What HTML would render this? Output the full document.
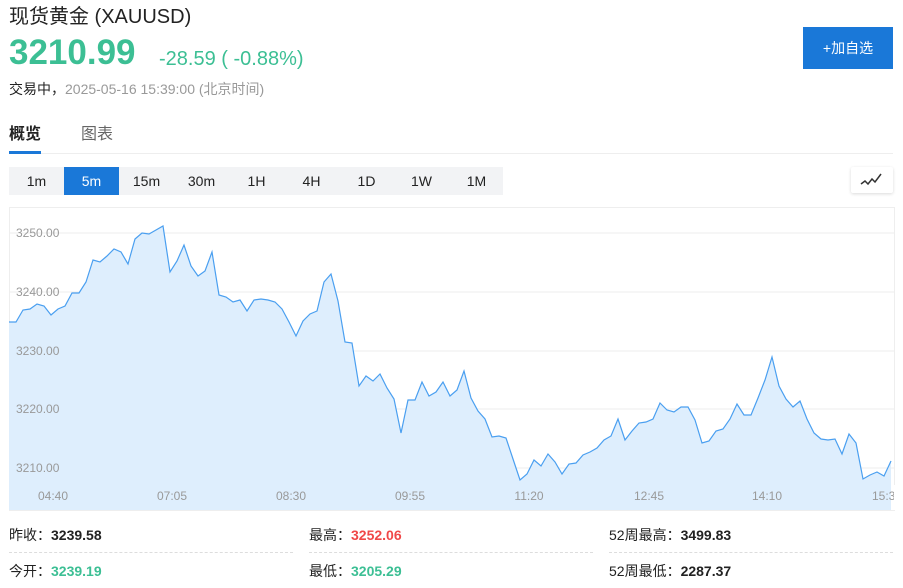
<!DOCTYPE html>
<html><head><meta charset="utf-8"><style>
*{margin:0;padding:0;box-sizing:border-box}
body{width:903px;height:588px;overflow:hidden;background:#fff;font-family:"Liberation Sans","Noto Sans CJK SC",sans-serif;position:relative}
.a{position:absolute;white-space:nowrap}
.tb{position:absolute;top:167px;height:28px;width:55px;text-align:center;line-height:28px;font-size:14px;color:#222}
.st{font-size:14px;color:#222}
.st b{font-weight:bold}
.dl{position:absolute;top:552px;height:0;border-top:1px dashed #ddd}
</style></head><body>
<div class="a" style="left:9px;top:0px;font-size:20px;color:#222">现货黄金&nbsp;(XAUUSD)</div>
<div class="a" style="left:9px;top:33px;font-size:35px;font-weight:bold;color:#3cbf94">3210.99</div>
<div class="a" style="left:159px;top:48px;font-size:20px;color:#3cbf94">-28.59 ( -0.88%)</div>
<div class="a" style="left:9px;top:79px;font-size:14px;color:#222">交易中，<span style="color:#999">2025-05-16 15:39:00 (北京时间)</span></div>
<div class="a" style="left:803px;top:27px;width:90px;height:42px;background:#1a78d8;color:#fff;font-size:14px;text-align:center;line-height:42px">+加自选</div>
<div class="a" style="left:9px;top:120px;font-size:16px;font-weight:bold;color:#222">概览</div>
<div class="a" style="left:81px;top:120px;font-size:16px;color:#666">图表</div>
<div class="a" style="left:9px;top:153px;width:884px;height:1px;background:#eee"></div>
<div class="a" style="left:9px;top:151px;width:32px;height:3px;background:#1a78d8"></div>
<div class="a" style="left:9px;top:167px;width:494px;height:28px;background:#f2f3f5"></div>
<div class="tb" style="left:9px">1m</div>
<div class="tb" style="left:64px;background:#1a78d8;color:#fff">5m</div>
<div class="tb" style="left:119px">15m</div>
<div class="tb" style="left:174px">30m</div>
<div class="tb" style="left:229px">1H</div>
<div class="tb" style="left:284px">4H</div>
<div class="tb" style="left:339px">1D</div>
<div class="tb" style="left:394px">1W</div>
<div class="tb" style="left:449px">1M</div>
<div class="a" style="left:851px;top:167px;width:42px;height:26px;background:#fff;box-shadow:0 1px 3px rgba(0,0,0,.15);border-radius:2px">
<svg width="42" height="26"><polyline points="10,17 14,14 17,17 21,12 24,15 30,7" fill="none" stroke="#333" stroke-width="1.5"/></svg></div>
<svg class="a" style="left:0;top:0" width="903" height="588">
<rect x="9.5" y="207.5" width="885" height="303" fill="none" stroke="#eee"/>
<g stroke="#eee"><line x1="10" x2="894" y1="233" y2="233"/><line x1="10" x2="894" y1="292" y2="292"/><line x1="10" x2="894" y1="351" y2="351"/><line x1="10" x2="894" y1="409" y2="409"/><line x1="10" x2="894" y1="468" y2="468"/></g>
<polygon fill="#deeefd" points="9,510 9,322 16,322 23,310 30,309 37,304 44,306 51,315 58,309 65,306 72,293 79,293 86,282 93,260 100,262 107,256 114,249 121,252 128,264 135,239 142,233 149,234 156,230 163,226 170,272 177,261 184,245 191,266 198,276 205,271 212,252 219,295 226,297 233,302 240,300 247,311 254,300 261,299 268,300 275,302 282,309 289,322 296,336 303,321 310,314 317,311 324,282 331,274 338,301 345,342 352,343 359,386 366,376 373,381 380,374 387,388 394,399 401,433 408,400 415,400 422,382 429,396 436,392 443,382 450,396 457,390 464,371 471,398 478,411 485,419 492,437 499,436 506,438 513,459 520,480 527,474 534,460 541,466 548,454 555,462 562,474 569,464 576,463 583,455 590,452 597,448 604,440 611,436 618,419 625,440 632,431 639,423 646,422 653,419 660,403 667,410 674,412 681,407 688,407 695,420 702,443 709,441 716,431 723,429 730,419 737,404 744,415 751,415 758,398 765,380 772,357 779,386 786,399 793,407 800,401 807,419 814,433 821,439 828,440 835,439 842,454 849,434 856,443 863,479 870,475 877,472 884,476 891,461 891,510"/>
<polyline fill="none" stroke="#4a9ff0" stroke-width="1.2" points="9,322 16,322 23,310 30,309 37,304 44,306 51,315 58,309 65,306 72,293 79,293 86,282 93,260 100,262 107,256 114,249 121,252 128,264 135,239 142,233 149,234 156,230 163,226 170,272 177,261 184,245 191,266 198,276 205,271 212,252 219,295 226,297 233,302 240,300 247,311 254,300 261,299 268,300 275,302 282,309 289,322 296,336 303,321 310,314 317,311 324,282 331,274 338,301 345,342 352,343 359,386 366,376 373,381 380,374 387,388 394,399 401,433 408,400 415,400 422,382 429,396 436,392 443,382 450,396 457,390 464,371 471,398 478,411 485,419 492,437 499,436 506,438 513,459 520,480 527,474 534,460 541,466 548,454 555,462 562,474 569,464 576,463 583,455 590,452 597,448 604,440 611,436 618,419 625,440 632,431 639,423 646,422 653,419 660,403 667,410 674,412 681,407 688,407 695,420 702,443 709,441 716,431 723,429 730,419 737,404 744,415 751,415 758,398 765,380 772,357 779,386 786,399 793,407 800,401 807,419 814,433 821,439 828,440 835,439 842,454 849,434 856,443 863,479 870,475 877,472 884,476 891,461"/>
<g font-family="Liberation Sans,sans-serif" font-size="12" fill="#999">
<text x="16" y="237">3250.00</text><text x="16" y="296">3240.00</text><text x="16" y="355">3230.00</text><text x="16" y="413">3220.00</text><text x="16" y="472">3210.00</text>
<g text-anchor="middle"><text x="53" y="500">04:40</text><text x="172" y="500">07:05</text><text x="291" y="500">08:30</text><text x="410" y="500">09:55</text><text x="529" y="500">11:20</text><text x="649" y="500">12:45</text><text x="767" y="500">14:10</text></g>
<text x="872" y="500">15:3</text>
</g>
</svg>
<div class="a" style="left:894px;top:485px;width:9px;height:25px;background:#fff"></div>
<div class="a st" style="left:9px;top:525px">昨收：<b>3239.58</b></div>
<div class="a st" style="left:309px;top:525px">最高：<b style="color:#f04848">3252.06</b></div>
<div class="a st" style="left:609px;top:525px">52周最高：<b>3499.83</b></div>
<div class="dl" style="left:9px;width:284px"></div>
<div class="dl" style="left:309px;width:284px"></div>
<div class="dl" style="left:609px;width:284px"></div>
<div class="a st" style="left:9px;top:561px">今开：<b style="color:#3cbf94">3239.19</b></div>
<div class="a st" style="left:309px;top:561px">最低：<b style="color:#3cbf94">3205.29</b></div>
<div class="a st" style="left:609px;top:561px">52周最低：<b>2287.37</b></div>
</body></html>
